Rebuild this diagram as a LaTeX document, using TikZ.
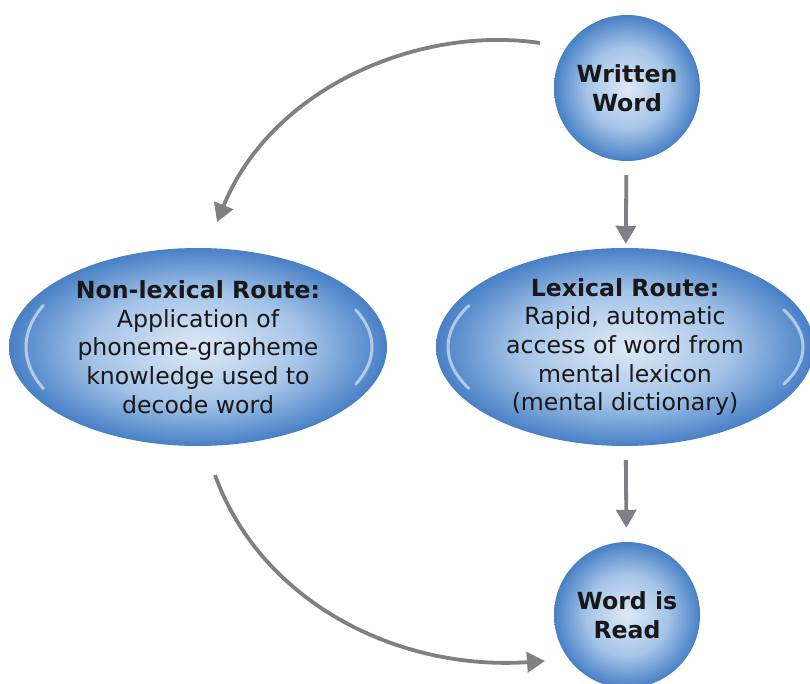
\documentclass[tikz,border=0pt]{standalone}
\usepackage{fontspec}
\setmainfont{DejaVu Sans}
\usetikzlibrary{shapes.geometric,arrows.meta,calc}

\definecolor{orbin}{RGB}{222,233,246}
\definecolor{orbmid}{RGB}{165,196,232}
\definecolor{orbout}{RGB}{72,128,198}
\definecolor{linkgray}{RGB}{128,128,132}
\definecolor{txt}{RGB}{24,24,24}

\pgfdeclareradialshading{orb}{\pgfpoint{0bp}{0bp}}{%
  color(0bp)=(orbin); color(14bp)=(orbmid); color(25bp)=(orbout); color(50bp)=(orbout)}

\tikzset{
  orbtext/.style={text=txt, align=center, font=\fontsize{23.6}{28.6}\selectfont},
  ball/.style={circle, minimum size=146pt, inner sep=0pt, shading=orb, orbtext},
  route/.style={ellipse, minimum width=378pt, minimum height=198pt, inner sep=0pt, shading=orb, orbtext},
  link/.style={draw=linkgray, line width=3.8pt, -{Triangle[length=18pt,width=20pt]}},
  gloss/.style={draw=white, draw opacity=0.55, line width=3pt, line cap=round}
}

\begin{document}
\begin{tikzpicture}[x=1pt, y=-1pt]
  \useasboundingbox (0,0) rectangle (810,684);
  \clip (0,0) rectangle (810,684);

  % the four stages
  \node[ball]  (ww)  at (627,88)  {\bfseries Written\\\bfseries Word};
  \node[route] (nl)  at (198,347) {\bfseries Non-lexical Route:\\Application of\\phoneme-grapheme\\knowledge used to\\decode word};
  \node[route] (lex) at (625,347) {\bfseries Lexical Route:\\Rapid, automatic\\access of word from\\mental lexicon\\(mental dictionary)};
  \node[ball]  (wr)  at (627,615) {\bfseries Word is\\\bfseries Read};

  % glossy rims on the route ellipses
  \draw[gloss] ($(nl.center)+(154:172 and 95)$) arc[start angle=154, end angle=206, x radius=172, y radius=95];
  \draw[gloss] ($(nl.center)+(-25:174 and 88)$) arc[start angle=-25, end angle=25, x radius=174, y radius=88];
  \draw[gloss] ($(lex.center)+(152:177 and 88)$) arc[start angle=152, end angle=208, x radius=177, y radius=88];
  \draw[gloss] ($(lex.center)+(-27:178 and 82)$) arc[start angle=-27, end angle=27, x radius=178, y radius=82];

  % ends of the curved connectors
  \coordinate (c1s) at ($(ww.center)+(-87,-45)$);
  \coordinate (c1e) at ($(nl.center)+(19,-125)$);
  \coordinate (c2s) at ($(nl.center)+(17,128)$);
  \coordinate (c2e) at ($(wr.center)+(-82,46)$);

  % connectors
  \draw[link, shorten <=14pt, shorten >=4pt] (ww) -- (lex);
  \draw[link, shorten <=14pt, shorten >=14pt] (lex) -- (wr);
  \draw[link] (c1s) .. controls ($(c1s)+(-120,-18)$) and ($(c1e)+(55,-135)$) .. (c1e);
  \draw[link] (c2s) .. controls ($(c2s)+(45,125)$) and ($(c2e)+(-150,10)$) .. (c2e);
\end{tikzpicture}
\end{document}
